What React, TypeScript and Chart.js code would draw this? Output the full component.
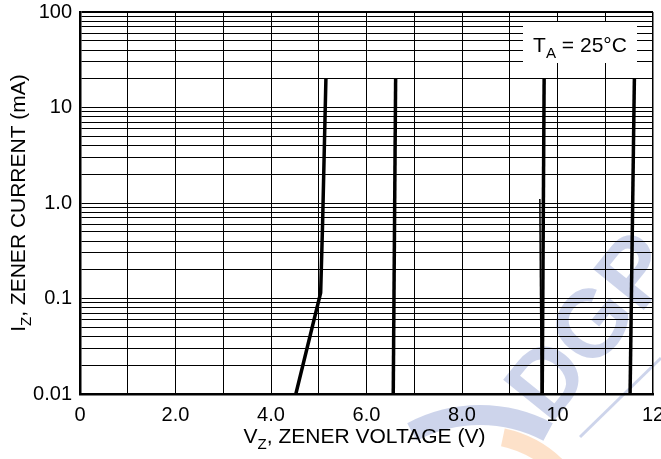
import React, { useEffect, useRef } from 'react';
import { Chart, registerables } from 'chart.js';

Chart.register(...registerables);

// ---- data ----
const xMin = 0;
const xMax = 12;
const xTickValues = [0, 2, 4, 6, 8, 10, 12];
const xTickLabels = ['0', '2.0', '4.0', '6.0', '8.0', '10', '12'];
const yDecades = [0.01, 0.1, 1, 10, 100];
const yTickLabels = ['0.01', '0.1', '1.0', '10', '100'];

const curve1V = [4.52, 5.04, 5.08, 5.15];
const curve1I = [0.01, 0.115, 0.6, 20];
const curve2V = [6.56, 6.61];
const curve2I = [0.01, 20];
const curve3V = [9.68, 9.72];
const curve3I = [0.01, 20];
const curve3thinV = [9.63, 9.66];
const curve3thinI = [1.1, 0.01];
const curve4V = [11.52, 11.61];
const curve4I = [0.01, 20];

const FONT = '"Liberation Sans", Arial, Helvetica, sans-serif';

type Part = { t: string; sub?: boolean };

function drawRich(ctx: CanvasRenderingContext2D, parts: Part[], size: number, cx: number, baseline: number) {
  const subSize = size * 0.72;
  const widths = parts.map((p) => {
    ctx.font = `${p.sub ? subSize : size}px ${FONT}`;
    return ctx.measureText(p.t).width;
  });
  const total = widths.reduce((a, b) => a + b, 0);
  let x = cx - total / 2;
  ctx.textAlign = 'left';
  ctx.textBaseline = 'alphabetic';
  ctx.fillStyle = '#000';
  parts.forEach((p, i) => {
    ctx.font = `${p.sub ? subSize : size}px ${FONT}`;
    ctx.fillText(p.t, x, baseline + (p.sub ? size * 0.27 : 0));
    x += widths[i];
  });
}

const WM_BLUE = 'rgba(196,204,232,0.85)';
const WM_ORANGE = 'rgba(253,222,195,0.9)';

const watermarkPlugin = {
  id: 'watermark',
  beforeDraw(chart: any) {
    const ctx: CanvasRenderingContext2D = chart.ctx;
    ctx.save();
    ctx.lineCap = 'butt';
    ctx.strokeStyle = WM_BLUE;
    ctx.lineWidth = 20;
    ctx.beginPath();
    ctx.arc(480, 560, 145, (-118 * Math.PI) / 180, (-62 * Math.PI) / 180);
    ctx.stroke();
    ctx.strokeStyle = WM_ORANGE;
    ctx.lineWidth = 18;
    ctx.beginPath();
    ctx.arc(480, 545, 110, (-78 * Math.PI) / 180, (-45 * Math.PI) / 180);
    ctx.stroke();
    ctx.strokeStyle = WM_BLUE;
    ctx.lineWidth = 3;
    ctx.beginPath();
    ctx.moveTo(580, 437);
    ctx.lineTo(661, 358);
    ctx.stroke();
    ctx.translate(545, 378);
    ctx.rotate((-51 * Math.PI) / 180);
    ctx.fillStyle = WM_BLUE;
    ctx.font = `bold 95px ${FONT}`;
    ctx.textAlign = 'left';
    ctx.textBaseline = 'alphabetic';
    ctx.fillText('DGP', -34, 34);
    ctx.restore();
  },
};

const annotPlugin = {
  id: 'annot',
  afterDraw(chart: any) {
    const ctx: CanvasRenderingContext2D = chart.ctx;
    const area = chart.chartArea;
    ctx.save();
    drawRich(
      ctx,
      [{ t: 'V' }, { t: 'Z', sub: true }, { t: ', ZENER VOLTAGE (V)' }],
      21,
      (area.left + area.right) / 2 - 2,
      443
    );
    ctx.save();
    ctx.translate(25, (area.top + area.bottom) / 2);
    ctx.rotate(-Math.PI / 2);
    drawRich(ctx, [{ t: 'I' }, { t: 'Z', sub: true }, { t: ', ZENER CURRENT (mA)' }], 21, 0, 0);
    ctx.restore();
    ctx.fillStyle = '#fff';
    ctx.fillRect(523, 22, 114, 41);
    drawRich(ctx, [{ t: 'T' }, { t: 'A', sub: true }, { t: ' = 25°C' }], 21, 580, 52);
    ctx.restore();
  },
};

function isDecade(v: number) {
  const l = Math.log10(v);
  return Math.abs(l - Math.round(l)) < 1e-6;
}

export default function App() {
  const ref = useRef<HTMLCanvasElement | null>(null);

  useEffect(() => {
    if (!ref.current) return;
    const pts = (v: number[], i: number[]) => v.map((x, k) => ({ x, y: i[k] }));
    const ds = (data: any, w: number) => ({
      data,
      borderColor: '#000',
      borderWidth: w,
      pointRadius: 0,
      tension: 0,
      fill: false,
      borderCapStyle: 'butt',
    });

    const gridX: number[] = [];
    for (let v = xMin; v <= xMax; v++) gridX.push(v);
    const gridY: number[] = [];
    for (let d = 0; d < yDecades.length - 1; d++) {
      for (let k = 1; k <= 9; k++) gridY.push(yDecades[d] * k);
    }
    gridY.push(yDecades[yDecades.length - 1]);

    const chart = new Chart(ref.current, {
      type: 'line',
      data: {
        datasets: [
          ds(pts(curve1V, curve1I), 3.5),
          ds(pts(curve2V, curve2I), 3.5),
          ds(pts(curve3V, curve3I), 3.5),
          ds(pts(curve3thinV, curve3thinI), 1.5),
          ds(pts(curve4V, curve4I), 3.5),
        ] as any,
      },
      options: {
        animation: false,
        responsive: false,
        layout: { padding: { left: 0, right: 8, top: 12, bottom: 0 } },
        plugins: { legend: { display: false }, tooltip: { enabled: false } },
        scales: {
          x: {
            type: 'linear',
            min: xMin,
            max: xMax,
            afterBuildTicks: (s: any) => {
              s.ticks = gridX.map((v) => ({ value: v }));
            },
            afterFit: (s: any) => {
              s.height = 65;
              s.paddingLeft = 0;
              s.paddingRight = 0;
            },
            ticks: {
              autoSkip: false,
              maxRotation: 0,
              padding: 9,
              color: '#000',
              font: { family: FONT, size: 20 },
              callback: (v: any) => {
                const idx = xTickValues.indexOf(Number(v));
                return idx >= 0 ? xTickLabels[idx] : '';
              },
            },
            grid: {
              color: '#000',
              lineWidth: (c: any) => (c.tick && c.tick.value === xMax ? 1.5 : 1),
              drawTicks: false,
            },
            border: { display: true, color: '#000', width: 2.5 },
          },
          y: {
            type: 'logarithmic',
            min: yDecades[0],
            max: yDecades[yDecades.length - 1],
            afterBuildTicks: (s: any) => {
              s.ticks = gridY.map((v) => ({ value: v }));
            },
            afterFit: (s: any) => {
              s.width = 80;
              s.paddingTop = 0;
              s.paddingBottom = 0;
            },
            ticks: {
              autoSkip: false,
              padding: 8,
              color: '#000',
              font: { family: FONT, size: 20 },
              callback: (v: any) => {
                const n = Number(v);
                if (!isDecade(n)) return '';
                const e = Math.round(Math.log10(n));
                const idx = yDecades.findIndex((d) => Math.round(Math.log10(d)) === e);
                return idx >= 0 ? yTickLabels[idx] : '';
              },
            },
            grid: {
              color: '#000',
              lineWidth: (c: any) =>
                c.tick && Math.abs(c.tick.value - yDecades[yDecades.length - 1]) < 1e-9 ? 2 : 1,
              drawTicks: false,
            },
            border: { display: true, color: '#000', width: 2.5 },
          },
        },
      } as any,
      plugins: [watermarkPlugin, annotPlugin],
    });
    return () => chart.destroy();
  }, []);

  return (
    <div style={{ position: 'fixed', left: 0, top: 0, width: 661, height: 459, background: '#fff' }}>
      <canvas ref={ref} width={661} height={459} style={{ width: 661, height: 459 }} />
    </div>
  );
}
